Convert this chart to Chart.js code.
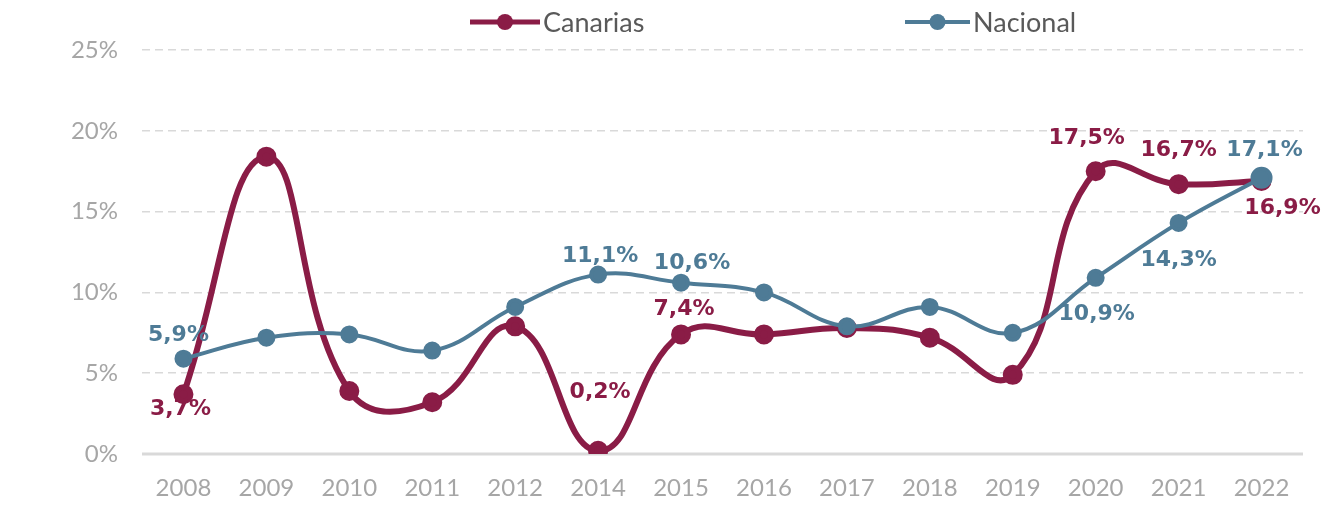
<!DOCTYPE html>
<html>
<head>
<meta charset="utf-8">
<script src="https://cdn.jsdelivr.net/npm/chart.js@4.4.0/dist/chart.umd.min.js"></script>
<style>
  body { margin: 0; background: #fff; }
  #wrap { width: 1332px; height: 512px; }
</style>
</head>
<body>
<div id="wrap"><canvas id="lineChart" width="1332" height="512"></canvas></div>
<script>
const years = ['2008', '2009', '2010', '2011', '2012', '2014', '2015', '2016', '2017', '2018', '2019', '2020', '2021', '2022'];
const canarias = [3.7, 18.4, 3.9, 3.2, 7.9, 0.2, 7.4, 7.4, 7.8, 7.2, 4.9, 17.5, 16.7, 16.9];
const nacional = [5.9, 7.2, 7.4, 6.4, 9.1, 11.1, 10.6, 10.0, 7.9, 9.1, 7.5, 10.9, 14.3, 17.1];
const yTicks = [0, 5, 10, 15, 20, 25];

// which points get a value label, and where it sits relative to the point (dx, dy)
const labelSpots = [
    {0: [-3, 15], 5: [2, -58], 6: [3, -25], 11: [-9, -33], 12: [0, -34], 13: [21, 27]},
    {0: [-5, -23], 5: [2, -18], 6: [11, -19], 11: [1, 36], 12: [0, 37], 13: [3, -27]}
];

const red = '#8a1c46';
const blue = '#4e7b96';

// solid baseline at 0% (the other grid lines are dashed)
const zeroLine = {
    id: 'zeroLine',
    beforeDatasetsDraw(chart) {
        const ctx = chart.ctx;
        const y = chart.scales.y.getPixelForValue(0);
        ctx.save();
        ctx.strokeStyle = '#d9d9d9';
        ctx.lineWidth = 3;
        ctx.beginPath();
        ctx.moveTo(chart.chartArea.left, y);
        ctx.lineTo(chart.chartArea.right, y);
        ctx.stroke();
        ctx.restore();
    }
};

const valueLabels = {
    id: 'valueLabels',
    afterDatasetsDraw(chart) {
        const ctx = chart.ctx;
        ctx.save();
        ctx.font = 'bold 22px "DejaVu Sans"';
        ctx.textAlign = 'center';
        ctx.textBaseline = 'middle';
        chart.data.datasets.forEach((ds, i) => {
            const meta = chart.getDatasetMeta(i);
            const spots = labelSpots[i];
            Object.keys(spots).forEach(k => {
                const pt = meta.data[k];
                const off = spots[k];
                ctx.fillStyle = ds.borderColor;
                ctx.fillText(ds.data[k].toFixed(1).replace('.', ',') + '%', pt.x + off[0], pt.y + off[1]);
            });
        });
        ctx.restore();
    }
};

const topLegend = {
    id: 'topLegend',
    afterDraw(chart) {
        const ctx = chart.ctx;
        const items = [
            {name: 'Canarias', color: red, x0: 470, x1: 540, w: 5},
            {name: 'Nacional', color: blue, x0: 905, x1: 970, w: 4}
        ];
        ctx.save();
        items.forEach(it => {
            const y = 22;
            ctx.strokeStyle = it.color;
            ctx.lineWidth = it.w;
            ctx.beginPath();
            ctx.moveTo(it.x0, y);
            ctx.lineTo(it.x1, y);
            ctx.stroke();
            ctx.fillStyle = it.color;
            ctx.beginPath();
            ctx.arc((it.x0 + it.x1) / 2, y, 8, 0, Math.PI * 2);
            ctx.fill();
            ctx.fillStyle = '#595959';
            ctx.font = '27px Lato';
            ctx.textAlign = 'left';
            ctx.textBaseline = 'middle';
            ctx.fillText(it.name, it.x1 + 3, y + 1);
        });
        ctx.restore();
    }
};

window.onload = function() {
    const ctxLine = document.getElementById('lineChart').getContext('2d');

    new Chart(ctxLine, {
        type: 'line',
        data: {
            labels: years,
            datasets: [{
                label: 'Canarias',
                data: canarias,
                borderColor: red,
                backgroundColor: red,
                borderWidth: 6,
                pointRadius: 7,
                tension: 0.45,
                order: 2
            }, {
                label: 'Nacional',
                data: nacional,
                borderColor: blue,
                backgroundColor: blue,
                borderWidth: 4,
                pointRadius: [7, 7, 7, 7, 7, 7, 7, 7, 7, 7, 7, 7, 7, 9],
                tension: 0.4,
                order: 1
            }]
        },
        options: {
            responsive: false,
            animation: false,
            devicePixelRatio: 1,
            layout: { padding: { top: 50, right: 29, left: 0, bottom: 0 } },
            plugins: {
                legend: { display: false },
                tooltip: { enabled: false }
            },
            scales: {
                x: {
                    offset: true,
                    grid: { display: false },
                    border: { display: false },
                    ticks: { color: '#a6a6a6', font: { family: 'Lato', size: 24 }, padding: 12, maxRotation: 0 },
                    afterFit: s => { s.height = 58; }
                },
                y: {
                    min: 0,
                    max: 25,
                    afterBuildTicks: s => { s.ticks = yTicks.map(v => ({ value: v })); },
                    ticks: {
                        color: '#a6a6a6',
                        font: { family: 'Lato', size: 24 },
                        padding: 24,
                        callback: v => v + '%'
                    },
                    border: { display: false, dash: [8, 5] },
                    grid: {
                        drawTicks: false,
                        color: ctx => ctx.tick.value === 0 ? 'rgba(0,0,0,0)' : '#d9d9d9',
                        lineWidth: 1.5
                    },
                    afterFit: s => { s.width = 142; }
                }
            }
        },
        plugins: [zeroLine, valueLabels, topLegend]
    });
};
</script>
</body>
</html>
